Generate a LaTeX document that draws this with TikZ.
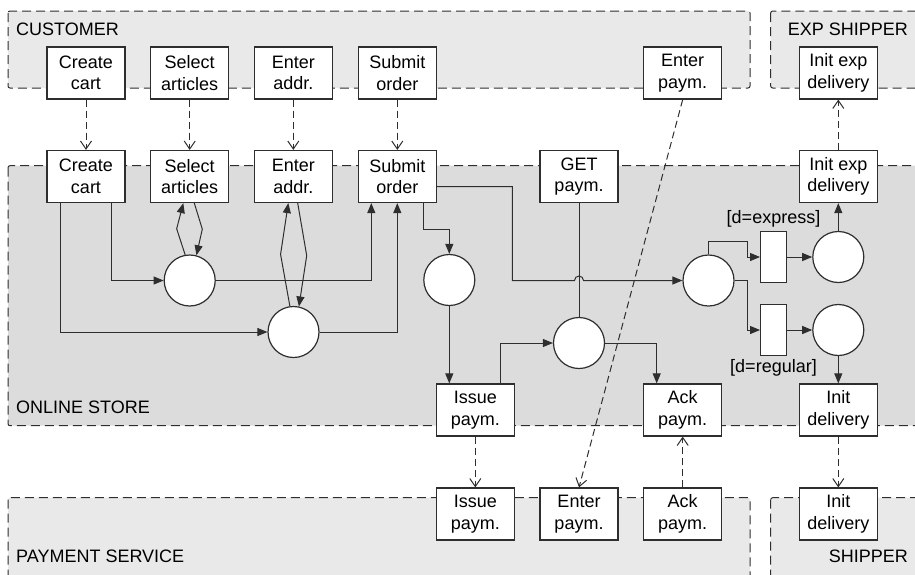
\documentclass[tikz,border=0pt]{standalone}
\usepackage{fontspec}
\setmainfont{Liberation Sans}
\usetikzlibrary{arrows.meta,positioning}
\definecolor{lanelight}{HTML}{E9E9E9}
\definecolor{lanedark}{HTML}{DCDCDC}
\definecolor{ink}{HTML}{2E2E2E}

\begin{document}
\begin{tikzpicture}[x=1pt,y=-1pt,
	font=\fontsize{18}{21.5}\selectfont,
	lane/.style={draw=ink,line width=1pt,dash pattern=on 9pt off 5pt,rounded corners=2pt},
	lanename/.style={inner sep=2pt},
	task/.style={draw=ink,fill=white,line width=1.2pt,minimum width=78pt,minimum height=52pt,align=center,inner sep=0pt},
	place/.style={circle,draw=ink,fill=white,line width=1.2pt,minimum size=51pt,inner sep=0pt},
	trans/.style={draw=ink,fill=white,line width=1.2pt,minimum width=25.7pt,minimum height=51.7pt,inner sep=0pt},
	guard/.style={inner sep=1pt},
	flow/.style={draw=ink,line width=1pt,-{Triangle[length=10pt,width=8pt]}},
	msg/.style={draw=ink,line width=1pt,dash pattern=on 7pt off 4pt,-{Straight Barb[length=8pt,width=11pt]}}]
	\useasboundingbox (0,0) rectangle (915,574);
	\clip (0,0) rectangle (915,574);

	% swim lanes
	\filldraw[lane,fill=lanelight] (8,11) rectangle (750,88);
	\filldraw[lane,fill=lanelight] (770.7,11) rectangle (930,88);
	\filldraw[lane,fill=lanedark] (8,165.7) rectangle (930,425.7);
	\filldraw[lane,fill=lanelight] (8,497.7) rectangle (750,590);
	\filldraw[lane,fill=lanelight] (770.7,497.7) rectangle (930,590);
	\node[lanename,anchor=west] (nCustomer) at (14,29) {CUSTOMER};
	\node[lanename,anchor=east] (nExpShipper) at (910,29) {EXP SHIPPER};
	\node[lanename,anchor=west] (nStore) at (14,407) {ONLINE STORE};
	\node[lanename,anchor=west] (nPayment) at (14,556.7) {PAYMENT SERVICE};
	\node[lanename,anchor=east] (nShipper) at (910,556.7) {SHIPPER};

	% customer and express shipper
	\node[task] (cuCart) at (86,73) {Create\\cart};
	\node[task] (cuArticles) at (189.7,73) {Select\\articles};
	\node[task] (cuAddr) at (293.3,73) {Enter\\addr.};
	\node[task] (cuOrder) at (397.3,73) {Submit\\order};
	\node[task] (cuPaym) at (682.7,73) {Enter\\paym.};
	\node[task] (esDeliv) at (838.3,73) {Init exp\\delivery};

	% online store
	\node[task] (osCart) at (86,176.5) {Create\\cart};
	\node[task] (osArticles) at (189.7,176.5) {Select\\articles};
	\node[task] (osAddr) at (293.3,176.5) {Enter\\addr.};
	\node[task] (osOrder) at (397.3,176.5) {Submit\\order};
	\node[task] (osGet) at (579,176.5) {GET\\paym.};
	\node[task] (osExpDeliv) at (838.3,176.5) {Init exp\\delivery};
	\node[task] (osIssue) at (475.3,410) {Issue\\paym.};
	\node[task] (osAck) at (682.7,410) {Ack\\paym.};
	\node[task] (osDeliv) at (838.3,410) {Init\\delivery};

	\node[place] (plSel) at (189.7,280.5) {};
	\node[place] (plAddr) at (293.5,332) {};
	\node[place] (plOrder) at (449.3,280) {};
	\node[place] (plPaym) at (579,343) {};
	\node[place] (plChoice) at (708.5,280.5) {};
	\node[place] (plExp) at (838.3,257) {};
	\node[place] (plReg) at (838.3,330) {};
	\node[trans] (trExp) at (773.5,257) {};
	\node[trans] (trReg) at (773.5,330) {};
	\node[guard,above=2pt of trExp] (gExp) {[d=express]};
	\node[guard,below=2pt of trReg] (gReg) {[d=regular]};

	% payment service and shipper
	\node[task] (psIssue) at (475.3,514) {Issue\\paym.};
	\node[task] (psEnter) at (579,514) {Enter\\paym.};
	\node[task] (psAck) at (682.7,514) {Ack\\paym.};
	\node[task] (shDeliv) at (838.3,514) {Init\\delivery};

	% messages between lanes
	\draw[msg] (cuCart) -- (osCart);
	\draw[msg] (cuArticles) -- (osArticles);
	\draw[msg] (cuAddr) -- (osAddr);
	\draw[msg] (cuOrder) -- (osOrder);
	\draw[msg] (osExpDeliv) -- (esDeliv);
	\draw[msg] (cuPaym.south) -- (psEnter.north);
	\draw[msg] (osIssue) -- (psIssue);
	\draw[msg] (psAck) -- (osAck);
	\draw[msg] (osDeliv) -- (shDeliv);

	% store flow
	\draw[flow] ([xshift=-26pt]osCart.south) |- (plAddr);
	\draw[flow] ([xshift=25.7pt]osCart.south) |- (plSel);
	\draw[flow] (plSel.100) -- ++(-8.5,-26) -- ([xshift=-6.4pt]osArticles.south);
	\draw[flow] ([xshift=4.6pt]osArticles.south) -- ++(8,26) -- (plSel.75);
	\draw[flow] (plAddr.98) -- ++(-9.3,-51.8) -- ([xshift=-5pt]osAddr.south);
	\draw[flow] ([xshift=4.4pt]osAddr.south) -- ++(9,52.5) -- (plAddr.78);
	\draw[flow] (plSel) -| ([xshift=-26pt]osOrder.south);
	\draw[flow] (plAddr) -| (osOrder.south);
	\draw[flow] ([xshift=26pt]osOrder.south) -- ++(0,26) -| (plOrder);
	\coordinate (hop) at (osGet.south |- plChoice.west);
	\draw[flow] ([yshift=-10pt]osOrder.east) -- ++(75.4,0) |- ([xshift=-4.5pt]hop)
		arc[start angle=180,end angle=0,radius=4.5pt] -- (plChoice);
	\draw[draw=ink,line width=1pt] (osGet) -- (plPaym);
	\draw[flow] (plOrder) -- (plOrder |- osIssue.north);
	\draw[flow] ([xshift=25.4pt]osIssue.north) |- (plPaym);
	\draw[flow] (plPaym) -| ([xshift=-26pt]osAck.north);
	\draw[flow] (plChoice.north) -- ++(0,-13) -- ++(38.5,0) |- (trExp);
	\draw[flow] (plChoice.east) -- ++(13,0) |- (trReg);
	\draw[flow] (trExp) -- (plExp);
	\draw[flow] (trReg) -- (plReg);
	\draw[flow] (plExp) -- (osExpDeliv);
	\draw[flow] (plReg) -- (osDeliv);
\end{tikzpicture}
\end{document}
